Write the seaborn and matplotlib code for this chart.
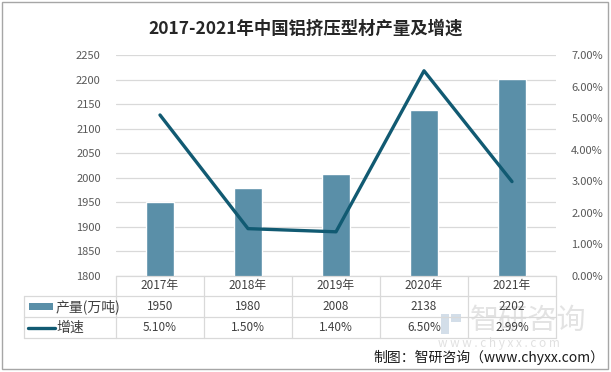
import matplotlib
matplotlib.use("Agg")
import matplotlib.pyplot as plt
import seaborn as sns
import pandas as pd
from matplotlib.lines import Line2D
from matplotlib.patches import Rectangle

years = ["2017年", "2018年", "2019年", "2020年", "2021年"]
output = [1950, 1980, 2008, 2138, 2202]
growth = [5.10, 1.50, 1.40, 6.50, 2.99]
growth_labels = ["5.10%", "1.50%", "1.40%", "6.50%", "2.99%"]
left_ticks = [1800, 1850, 1900, 1950, 2000, 2050, 2100, 2150, 2200, 2250]
right_ticks = [0, 1, 2, 3, 4, 5, 6, 7]
title = "2017-2021年中国铝挤压型材产量及增速"
bar_label = "产量(万吨)"
line_label = "增速"
source = "制图：智研咨询（www.chyxx.com）"

sns.set_theme(style="white")
plt.rcParams['font.family'] = ['Noto Sans CJK SC', 'DejaVu Sans']

W, H = 611, 372
fig = plt.figure(figsize=(W / 100, H / 100), dpi=100)

def fx(px):
    return px / W

def fy(py):
    return 1 - py / H

bar_color = "#5A8FA8"
line_color = "#115A72"
grid_color = "#D9D9D9"
tick_color = "#595959"

x0, x1, ytop, ybot = 116, 556, 55, 276
ax = fig.add_axes([fx(x0), fy(ybot), fx(x1 - x0), (ybot - ytop) / H])
df = pd.DataFrame({"year": years, "output": output, "growth": growth})
sns.barplot(data=df, x="year", y="output", color=bar_color, width=0.32,
            saturation=1, ax=ax, zorder=3)
ax.set_xlim(-0.5, 4.5)
ax.set_ylim(1800, 2250)
ax.set_yticks(left_ticks)
ax.yaxis.grid(True, color=grid_color, linewidth=0.9, zorder=0)
ax.set_axisbelow(True)
ax.set_xticks([])
ax.set_xlabel("")
ax.set_ylabel("")
for s in ax.spines.values():
    s.set_visible(False)
ax.tick_params(axis="y", length=0, labelsize=8, labelcolor=tick_color, pad=11)

ax2 = ax.twinx()
sns.lineplot(x=list(range(len(years))), y=growth, color=line_color, linewidth=2.4, ax=ax2)
ax2.set_ylim(0, 7)
ax2.set_yticks(right_ticks)
ax2.set_yticklabels([f"{v:.2f}%" for v in right_ticks])
ax2.tick_params(axis="y", length=0, labelsize=8, labelcolor=tick_color, pad=11)
ax2.set_xlim(-0.5, 4.5)
for s in ax2.spines.values():
    s.set_visible(False)

# Data table
tbl_left = 24
rows_y = [276, 296, 317, 338]
col_x = [x0 + i * 88 for i in range(6)]
lc = "#D9D9D9"
fig.add_artist(Line2D([fx(x0), fx(x1)], [fy(276), fy(276)], color=lc, lw=0.9))
for yy in rows_y[1:]:
    fig.add_artist(Line2D([fx(tbl_left), fx(x1)], [fy(yy), fy(yy)], color=lc, lw=0.9))
for xx in col_x:
    fig.add_artist(Line2D([fx(xx), fx(xx)], [fy(276), fy(338)], color=lc, lw=0.9))
fig.add_artist(Line2D([fx(tbl_left), fx(tbl_left)], [fy(296), fy(338)], color=lc, lw=0.9))

tc = "#404040"
for i, yv in enumerate(years):
    cx = x0 + 44 + i * 88
    fig.text(fx(cx), fy(286), yv, ha="center", va="center", fontsize=8.5, color=tc)
    fig.text(fx(cx), fy(306.5), str(output[i]), ha="center", va="center", fontsize=8.5, color=tc)
    fig.text(fx(cx), fy(327.5), growth_labels[i], ha="center", va="center", fontsize=8.5, color=tc, zorder=5)

fig.add_artist(Rectangle((fx(29), fy(310)), fx(24), 7 / H, color=bar_color, lw=0))
fig.text(fx(56), fy(306.5), bar_label, ha="left", va="center", fontsize=10, color=tc)
fig.add_artist(Line2D([fx(28), fx(55)], [fy(327.5), fy(327.5)], color=line_color, lw=2.4))
fig.text(fx(56), fy(327.5), line_label, ha="left", va="center", fontsize=10, color=tc)

# Title
fig.text(0.5, fy(29), title, ha="center", va="center", fontsize=12.5,
         fontweight="bold", color="#262626")

# Watermark (faint)
fig.add_artist(Rectangle((fx(441), fy(334)), 8 / W, 20 / H, color="#B0C4D8", lw=0, alpha=0.55))
fig.add_artist(Rectangle((fx(451), fy(322)), 10 / W, 8 / H, color="#B0C4D8", lw=0, alpha=0.55))
fig.text(fx(470), fy(321), "智研咨询", ha="left", va="center", fontsize=21,
         color="#C8C8C8", alpha=0.5, zorder=1)
fig.text(fx(438), fy(343), "w w w . c h y x x . c o m", ha="left", va="center",
         fontsize=8.5, color="#CCCCCC", alpha=0.6, zorder=1)

# Source
fig.text(fx(604), fy(357), source, ha="right", va="center", fontsize=10, color="#1A1A1A")

# Frame
fig.add_artist(Rectangle((fx(2), fy(369)), fx(606), 367 / H, fill=False,
                         edgecolor="#A6A6A6", lw=1.0))

fig.savefig("out.png", dpi=100)
